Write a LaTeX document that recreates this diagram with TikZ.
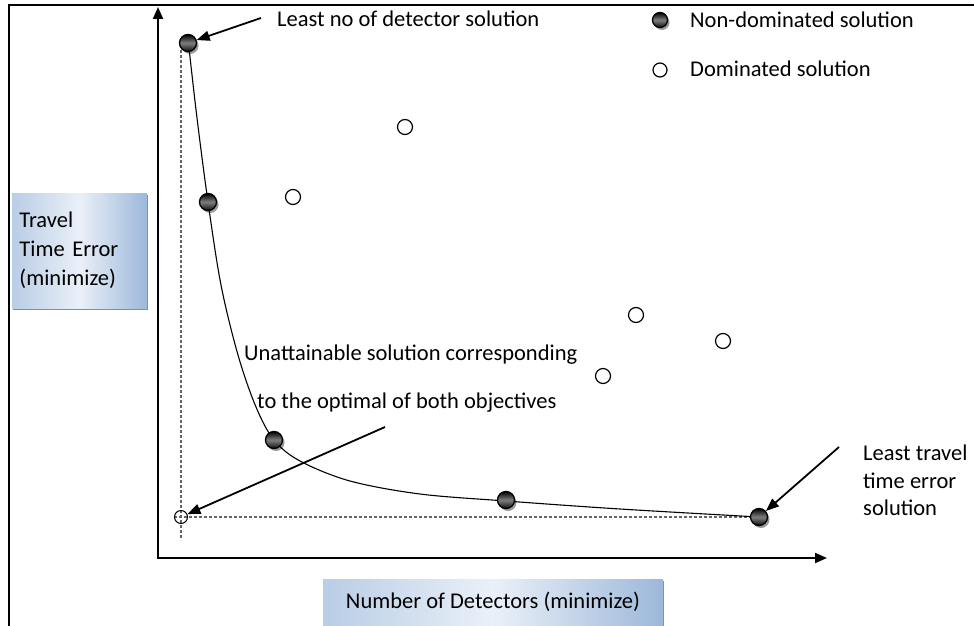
\documentclass[tikz,border=0pt]{standalone}
\usepackage{fontspec}
\setmainfont{Carlito}
\usetikzlibrary{shadows,arrows.meta}
\definecolor{lbA}{HTML}{B9CDE5}
\definecolor{lbB}{HTML}{EAF0F8}
\definecolor{lbC}{HTML}{9DB8DA}
\begin{document}
\begin{tikzpicture}[x=1pt,y=-1pt,
  font=\fontsize{22.5}{29}\selectfont,
  frame/.style={line width=2.5pt, line join=miter},
  axisline/.style={line width=2pt, {Triangle[length=12pt,width=10pt]}-{Triangle[length=12pt,width=10pt]}},
  pointer/.style={line width=1.8pt, -{Triangle[length=13pt,width=10pt]}},
  guide/.style={black!60, line width=1.1pt, dash pattern=on 3pt off 2pt},
  curveline/.style={line width=1.1pt},
  nd/.style={circle, inner sep=0pt, minimum size=17pt, draw=black, line width=1.3pt,
    top color=black, bottom color=black!95, middle color=black!50,
    drop shadow={shadow xshift=2pt, shadow yshift=-2.5pt, fill=black, opacity=0.4}},
  dom/.style={circle, inner sep=0pt, minimum size=15pt, draw=black, line width=1.2pt, fill=white},
  txt/.style={inner sep=0pt, anchor=base west},
  lbl/.style={inner sep=0pt, left color=lbA, right color=lbC, middle color=lbB,
    drop shadow={shadow xshift=1.2pt, shadow yshift=-1.5pt, fill=black, opacity=0.45}}
]
\useasboundingbox (0,0) rectangle (974,626);
\fill[white] (0,0) rectangle (974,626);
% frame
\draw[frame] (9,626) -- (9,5) -- (974,5);

% axes
\coordinate (O) at (158,558);
\coordinate (Ytop) at (158,7);
\coordinate (Xend) at (827,558);
\draw[axisline] (Ytop) -- (O) -- (Xend);

% axis labels
\node[lbl, minimum width=135pt, minimum height=115pt, text width=120pt, align=left]
  (ylab) at (79.5,250.5) {Travel\\Time Error\\(minimize)};
\node[lbl, minimum width=340pt, minimum height=46pt]
  (xlab) at (493,602) {Number of Detectors (minimize)};

% guide lines
\coordinate (gv1) at (181,50);
\coordinate (gv2) at (181,540);
\coordinate (gh1) at (174,517);
\coordinate (gh2) at (752,517);
\draw[guide] (gv1) -- (gv2);
\draw[guide] (gh1) -- (gh2);

% pareto curve
\draw[curveline] plot[smooth, tension=0.55] coordinates {
  (189,48) (197,118) (208,202) (221,285) (238,355) (256,407) (274,440)
  (300,461) (350,481) (420,494) (506,501) (620,509) (759,517)};

% unattainable point
\node[circle, inner sep=0pt, minimum size=13pt, draw=black, line width=1pt] (u) at (181,517) {};

% dominated solutions
\node[dom] (d1) at (405,127) {};
\node[dom] (d2) at (293,197) {};
\node[dom] (d3) at (636,315) {};
\node[dom] (d4) at (723,341) {};
\node[dom] (d5) at (603,376) {};

% non-dominated solutions
\node[nd] (p1) at (188,43) {};
\node[nd] (p2) at (208,202) {};
\node[nd] (p3) at (274,440) {};
\node[nd] (p4) at (506,500) {};
\node[nd] (p5) at (759,517) {};

% legend
\node[nd, minimum size=15pt] (lg1) at (660,20) {};
\node[txt] (lt1) at (690,28) {Non-dominated solution};
\node[dom, minimum size=14pt] (lg2) at (660,70) {};
\node[txt] (lt2) at (690,77) {Dominated solution};

% annotations
\node[txt] (t1) at (277,27) {Least no of detector solution};
\node[txt] (t4) at (244,360) {Unattainable solution corresponding};
\node[txt] (t5) at (257,408) {to the optimal of both objectives};
\node[txt] (t6) at (863,460) {Least travel};
\node[txt] (t7) at (863,488) {time error};
\node[txt] (t8) at (863,515) {solution};

% pointers
\coordinate (a1) at (261,18);
\coordinate (a2) at (385,427);
\coordinate (a3) at (839,447);
\draw[pointer] (a1) -- (p1);
\draw[pointer] (a2) -- (u);
\draw[pointer] (a3) -- (p5);
\end{tikzpicture}
\end{document}
